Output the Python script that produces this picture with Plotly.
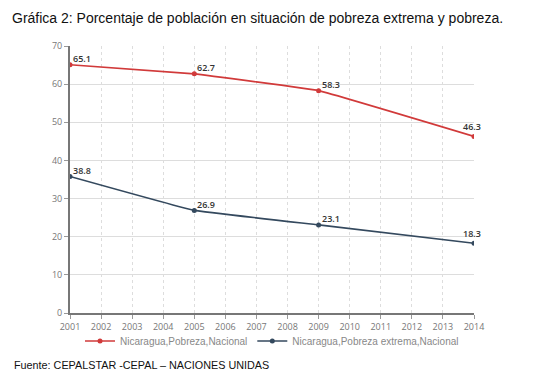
import plotly.graph_objects as go

years = [2001, 2005, 2009, 2014]
pobreza = [65.1, 62.7, 58.3, 46.3]
pobreza_labels = ["65.1", "62.7", "58.3", "46.3"]
extrema = [35.8, 26.9, 23.1, 18.3]
extrema_labels = ["38.8", "26.9", "23.1", "18.3"]
x_ticks = list(range(2001, 2015))
y_ticks = [0, 10, 20, 30, 40, 50, 60, 70]

red = "#d13a3a"
navy = "#34495e"

W, H = 539, 374  # page body adds an 8px offset
L, T, R, B = 62, 38, 73, 69
PW, PH = W - L - R, H - T - B

fig = go.Figure()
series = [
    ("Nicaragua,Pobreza,Nacional", pobreza, pobreza_labels, red),
    ("Nicaragua,Pobreza extrema,Nacional", extrema, extrema_labels, navy),
]
annotations = []
for name, vals, labels, col in series:
    fig.add_trace(go.Scatter(
        x=years, y=vals, mode="lines+markers", name=name,
        line=dict(color=col, width=1.6, shape="spline", smoothing=0.2),
        marker=dict(color=col, size=5),
    ))
    n = len(years)
    for i, (xv, yv, lab) in enumerate(zip(years, vals, labels)):
        last = i == n - 1
        annotations.append(dict(
            x=xv, y=yv, text=lab, showarrow=False,
            xanchor="center" if last else "left",
            yanchor="middle",
            xshift=-2 if last else 1,
            yshift=10 if last else 6,
            font=dict(family="Open Sans", size=9, color="#333333", weight=600),
        ))

annotations.append(dict(text="Fuente: CEPALSTAR -CEPAL – NACIONES UNIDAS",
                        xref="paper", yref="paper", x=(4 - L) / PW, y=-52 / PH,
                        xanchor="left", yanchor="middle", showarrow=False,
                        font=dict(family="Liberation Sans, Arial", size=10.8, color="#111111")))

fig.update_layout(
    width=W, height=H,
    margin=dict(l=L, r=R, t=T, b=B),
    paper_bgcolor="white", plot_bgcolor="white",
    title=dict(text="Gráfica 2: Porcentaje de población en situación de pobreza extrema y pobreza.",
               x=4 / W, xanchor="left", y=1 - 10 / H, yanchor="middle",
               font=dict(family="Liberation Sans, Arial", size=14, color="#111111")),
    legend=dict(orientation="h", x=0.5, xanchor="center", y=-28 / PH, yanchor="middle",
                font=dict(family="Liberation Sans, Arial", size=10, color="#888888"),
                bgcolor="rgba(0,0,0,0)"),
    showlegend=True,
    annotations=annotations,
)
fig.update_xaxes(range=[2001, 2014], tickvals=x_ticks, ticktext=[str(t) for t in x_ticks],
                 showgrid=True, gridcolor="#dddddd", griddash="3px,3px", gridwidth=1,
                 showline=True, linecolor="#777777", linewidth=2,
                 ticks="outside", ticklen=4, tickcolor="#999999",
                 tickfont=dict(family="Open Sans", size=9, color="#777777"), zeroline=False)
fig.update_yaxes(range=[0, 70], tickvals=y_ticks,
                 showgrid=True, gridcolor="#dddddd", gridwidth=1,
                 showline=True, linecolor="#777777", linewidth=2,
                 ticks="outside", ticklen=4, tickcolor="#999999",
                 tickfont=dict(family="Open Sans", size=9, color="#777777"), zeroline=False)

fig.write_html("out.html")
